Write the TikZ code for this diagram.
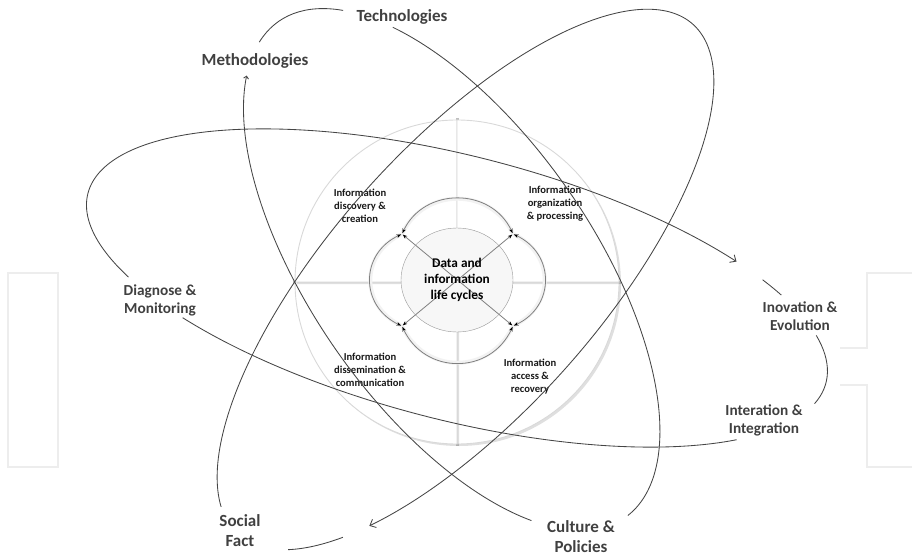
\documentclass[tikz,border=0pt]{standalone}
\usepackage{fontspec}
\setmainfont{Carlito}
\usepackage{xcolor}
\usetikzlibrary{arrows.meta,calc,shadows}
\definecolor{labelgray}{HTML}{404040}
\definecolor{orbitgray}{HTML}{454545}
\tikzset{
        ringlabel/.style = {text=labelgray, align=center, inner sep=2pt, font=\bfseries\fontsize{17}{20}\selectfont},
        ringlabelsm/.style = {ringlabel, font=\bfseries\fontsize{15.3}{18}\selectfont},
        phaselabel/.style = {text=black!90, align=center, inner sep=1pt, font=\bfseries\fontsize{10.6}{13}\selectfont},
        orbit/.style = {draw=orbitgray, line width=0.85pt},
        orbittip/.tip = {Straight Barb[length=5pt,width=9pt]},
        quarter/.style = {fill=white, draw=black!15, line width=0.9pt, drop shadow={opacity=0.25, shadow xshift=2pt, shadow yshift=-2pt}},
        crossbar/.style = {draw=black!25, line width=3pt},
        loopline/.style = {draw=black!50, line width=0.8pt, shorten <=1pt, shorten >=1pt, {Stealth[length=4.5pt,width=3.5pt,black]}-{Stealth[length=4.5pt,width=3.5pt,black]}},
        loopglow/.style = {draw=black!5, line width=4pt},
        faint/.style = {draw=black!7, line width=1.3pt},
        % radii of the three orbits
        orbA/.style = {x radius=302.6, y radius=140.9},
        orbB/.style = {x radius=341.8, y radius=133.8},
        orbC/.style = {x radius=381, y radius=132}}

\begin{document}
\begin{tikzpicture}[x=1pt, y=-1pt]
\useasboundingbox (0,0) rectangle (912,556);

% faint outlines at the sides
\draw[faint] (8,273) rectangle (58,467);
\draw[faint] (912,273) -- (867,273) -- (867,348) -- (840,348);
\draw[faint] (840,385) -- (867,385) -- (867,467) -- (912,467);

% the disc, cut in four
\coordinate (hub) at (457,282);
\draw[crossbar] (hub) ++(-164,0) -- ++(328,0);
\draw[crossbar] (hub) ++(0,-164) -- ++(0,328);
\foreach \a in {0,90,180,270}
    \filldraw[quarter, shift={(\a+45:3)}] (hub) -- ++(\a:162) arc[start angle=\a, delta angle=90, radius=162] -- cycle;

% life cycle in the middle
\coordinate (ul) at (402,234);
\coordinate (ur) at (513,234);
\coordinate (ll) at (402,326);
\coordinate (lr) at (513,326);
\path[loopglow] (ul) to[out=65,in=115,looseness=1.2] (ur) to[out=-25,in=25,looseness=1.3] (lr)
    to[out=245,in=295,looseness=1.25] (ll) to[out=155,in=205,looseness=1.3] (ul);
\filldraw[draw=black!40, fill=black!3] (457,280) ellipse (56 and 52);
\draw[loopline] (ul) to[out=65,in=115,looseness=1.2] (ur);
\draw[loopline] (ur) to[out=-25,in=25,looseness=1.3] (lr);
\draw[loopline] (lr) to[out=245,in=295,looseness=1.25] (ll);
\draw[loopline] (ll) to[out=155,in=205,looseness=1.3] (ul);
\draw[loopline] (ul) -- (lr);
\draw[loopline] (ur) -- (ll);

\node[font=\bfseries\fontsize{13.3}{16}\selectfont, align=center, inner sep=1pt] (core) at (457,280) {Data and\\information\\life cycles};
\node[phaselabel] (discov) at (360,206) {Information\\discovery \&\\creation};
\node[phaselabel] (organ) at (555,204) {Information\\organization\\\& processing};
\node[phaselabel] (dissem) at (370,370) {Information\\dissemination \&\\communication};
\node[phaselabel] (access) at (530,377) {Information\\access \&\\recovery};

% labels round the orbits
\node[ringlabel] (tech) at (402,17) {Technologies};
\node[ringlabel] (meth) at (255,61) {Methodologies};
\node[ringlabelsm] (diag) at (160,300) {Diagnose \&\\Monitoring};
\node[ringlabelsm] (inov) at (800,316) {Inovation \&\\Evolution};
\node[ringlabelsm] (inter) at (764,420) {Interation \&\\Integration};
\node[ringlabel] (social) at (240,531) {Social\\Fact};
\node[ringlabel] (cult) at (581,537) {Culture \&\\Policies};

% centres of the orbits
\coordinate (ctrA) at (451.8,269.5);
\coordinate (ctrB) at (465.5,279.5);
\coordinate (ctrC) at (457,288);

% orbit from upper left to lower right
\begin{scope}[shift={(ctrA)}, rotate=-55.1]
\draw[orbit] (168.6:302.6 and 140.9) arc[orbA, start angle=168.6, end angle=204.8];
\draw[orbit, {Straight Barb[length=2.5pt,width=5pt]}-] (156:302.6 and 140.9) arc[orbA, start angle=156, end angle=33.8];
\draw[orbit] (219.8:302.6 and 140.9) arc[orbA, start angle=219.8, end angle=358.5];
\end{scope}

% orbit from upper right to lower left
\begin{scope}[shift={(ctrB)}, rotate=48.3]
\draw[orbit, -orbittip] (193.5:341.8 and 133.8) arc[orbB, start angle=193.5, end angle=496.5];
\draw[orbit] (143.3:341.8 and 133.8) arc[orbB, start angle=143.3, end angle=159.3];
\end{scope}

% orbit from left to right
\begin{scope}[shift={(ctrC)}, rotate=-14.4]
\draw[orbit, -orbittip] (147.4:381 and 132) arc[orbC, start angle=147.4, end angle=313.9];
\draw[orbit] (320.5:381 and 132) arc[orbC, start angle=320.5, end angle=326];
\draw[orbit] (340.8:381 and 132) arc[orbC, start angle=340.8, end angle=370.1];
\draw[orbit] (35.9:381 and 132) arc[orbC, start angle=35.9, end angle=132.7];
\end{scope}
\end{tikzpicture}
\end{document}
